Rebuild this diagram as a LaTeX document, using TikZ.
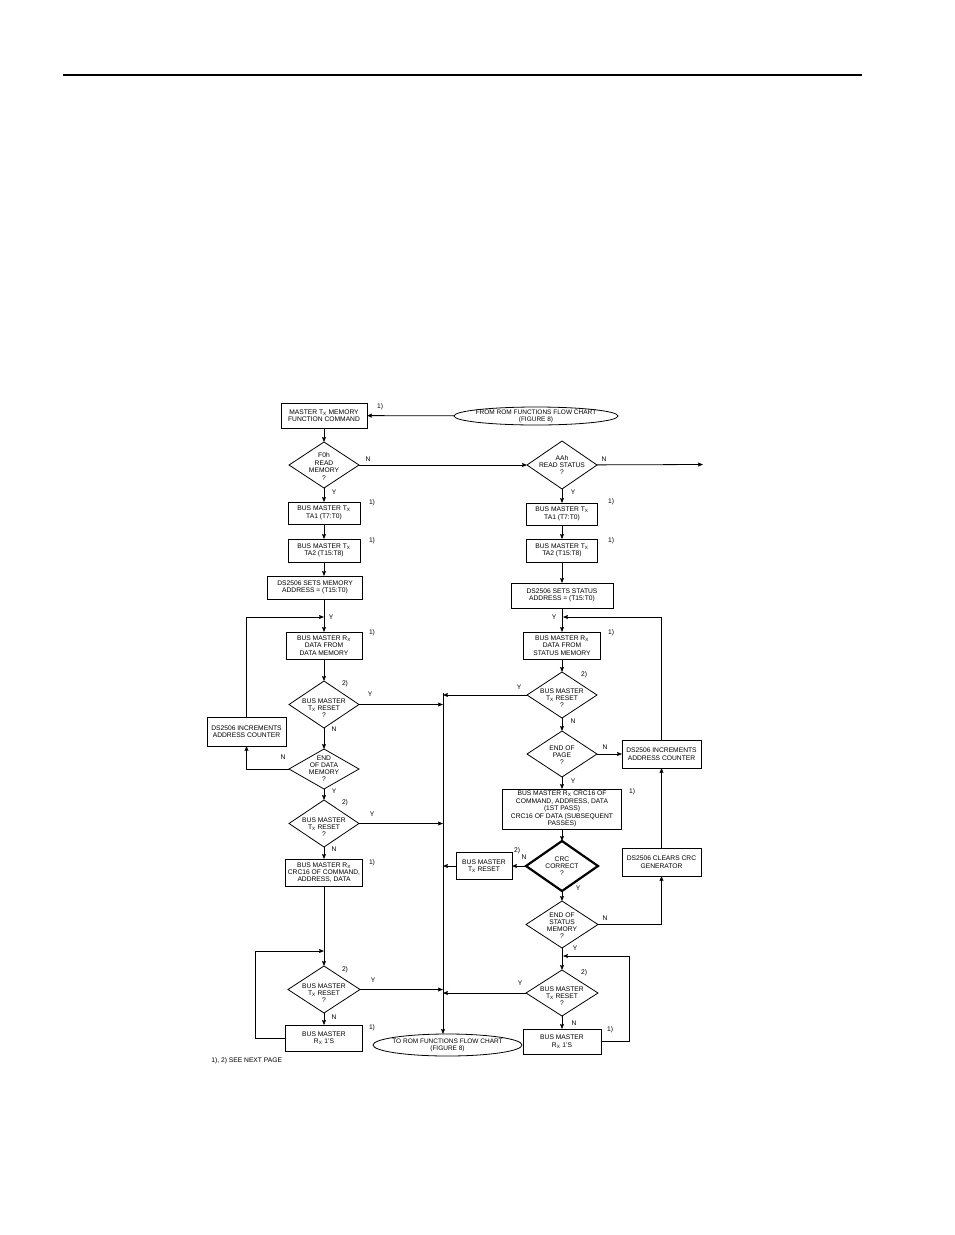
\documentclass[tikz,border=0pt]{standalone}
\usepackage{fontspec}
\setmainfont{Liberation Sans}
\usetikzlibrary{shapes,arrows.meta,calc,positioning}
\newcommand{\Tx}{T\textsubscript{X}}
\newcommand{\Rx}{R\textsubscript{X}}

\begin{document}
\begin{tikzpicture}[>={Stealth[length=5pt,width=4pt,inset=0.8pt]},x=1pt,y=-1pt,line width=0.8pt]
    \tikzstyle{box}=[rectangle,draw=black,inner sep=0pt,outer sep=0pt,align=center,
    font=\fontsize{6.7}{7.4}\selectfont,minimum width=72pt,minimum height=23pt]
    \tikzstyle{dec}=[diamond,draw=black,inner sep=0pt,outer sep=0pt,minimum width=70pt,minimum height=46pt]
    \tikzstyle{term}=[ellipse,draw=black,inner sep=0pt,outer sep=0pt]
    \tikzstyle{txt}=[font=\fontsize{6.7}{7}\selectfont,inner sep=0pt,align=center]
    \tikzstyle{rtxt}=[txt,yshift=-3.5pt]

    \useasboundingbox (0,0) rectangle (954,1235);
    \draw[line width=1.2pt] (63,75) -- (862,75);

    % read memory
    \node[box,minimum width=86pt,minimum height=25pt](cmd) at (324,415.5){MASTER \Tx{} MEMORY\\FUNCTION COMMAND};
    \node[dec,label={[txt,font=\fontsize{6.7}{7.8}\selectfont,yshift=-1.5pt]center:{F0h\\READ\\MEMORY\\?}}](rd_mem)[below=14pt of cmd]{};
    \node[box,minimum height=22pt](ta1_l)[below=14pt of rd_mem]{BUS MASTER \Tx\\TA1 (T7:T0)};
    \node[box](ta2_l)[below=15pt of ta1_l]{BUS MASTER \Tx\\TA2 (T15:T8)};
    \node[box,minimum width=95pt](addr_l)[below=14pt of ta2_l,xshift=-9pt]{DS2506 SETS MEMORY\\ADDRESS = (T15:T0)};
    \node[box,minimum width=76pt,minimum height=27pt](data_l)[below=33pt of addr_l,xshift=9pt]{BUS MASTER \Rx\\DATA FROM\\DATA MEMORY};
    \node[dec,minimum height=47pt,label={[rtxt]center:{BUS MASTER\\\Tx{} RESET\\?}}](rst1_l)[below=22pt of data_l]{};
    \node[dec,minimum height=40pt,label={[txt]center:{END\\OF DATA\\MEMORY\\?}}](end_l)[below=21pt of rst1_l]{};
    \node[dec,minimum height=47pt,label={[rtxt]center:{BUS MASTER\\\Tx{} RESET\\?}}](rst2_l)[below=11pt of end_l]{};
    \node[box,minimum width=77pt,minimum height=27pt](crc_l)[below=12pt of rst2_l]{BUS MASTER \Rx\\CRC16 OF COMMAND,\\ADDRESS, DATA};
    \node[dec,minimum width=72pt,minimum height=47pt,label={[rtxt]center:{BUS MASTER\\\Tx{} RESET\\?}}](rst3_l)[below=80pt of crc_l]{};
    \node[box,minimum width=77pt,minimum height=26pt](ones_l)[below=12pt of rst3_l]{BUS MASTER\\\Rx{} 1'S};
    \node[box,minimum width=79pt,minimum height=29pt](inc_l) at (246.5,731.5){DS2506 INCREMENTS\\ADDRESS COUNTER};

    % read status
    \node[term,minimum width=164pt,minimum height=18pt,label={[txt,font=\fontsize{6.5}{7}\selectfont]center:{FROM ROM FUNCTIONS FLOW CHART\\(FIGURE 8)}}](from_rom) at (536,416){};
    \node[dec,minimum height=48pt,label={[txt,font=\fontsize{6.7}{7.4}\selectfont]center:{AAh\\READ STATUS\\?}}](rd_stat)[right=168pt of rd_mem]{};
    \node[box,minimum width=71pt,minimum height=22pt](ta1_r)[below=14pt of rd_stat]{BUS MASTER \Tx\\TA1 (T7:T0)};
    \node[box,minimum width=71pt](ta2_r)[below=14pt of ta1_r]{BUS MASTER \Tx\\TA2 (T15:T8)};
    \node[box,minimum width=102pt,minimum height=25pt](addr_r)[below=21pt of ta2_r]{DS2506 SETS STATUS\\ADDRESS = (T15:T0)};
    \node[box,minimum width=77pt,minimum height=27pt](data_r)[below=24pt of addr_r]{BUS MASTER \Rx\\DATA FROM\\STATUS MEMORY};
    \node[dec,label={[rtxt]center:{BUS MASTER\\\Tx{} RESET\\?}}](rst1_r)[below=13pt of data_r]{};
    \node[dec,label={[txt,yshift=-1.5pt]center:{END OF\\PAGE\\?}}](endpg_r)[below=13pt of rst1_r]{};
    \node[box,minimum width=119pt,minimum height=40pt](crc_r)[below=12pt of endpg_r]{BUS MASTER \Rx{} CRC16 OF\\COMMAND, ADDRESS, DATA\\(1ST PASS)\\CRC16 OF DATA (SUBSEQUENT\\PASSES)};
    \node[dec,line width=2.2pt,minimum width=72pt,minimum height=50pt,label={[txt]center:{CRC\\CORRECT\\?}}](crc_ok)[below=12pt of crc_r]{};
    \node[dec,minimum width=72pt,minimum height=47pt,label={[txt,yshift=-1.5pt]center:{END OF\\STATUS\\MEMORY\\?}}](endst_r)[below=10pt of crc_ok]{};
    \node[dec,minimum width=72pt,label={[rtxt]center:{BUS MASTER\\\Tx{} RESET\\?}}](rst3_r)[below=22pt of endst_r]{};
    \node[box,minimum width=78pt,minimum height=25pt](ones_r)[below=13pt of rst3_r]{BUS MASTER\\\Rx{} 1'S};
    \node[box,minimum width=79pt,minimum height=28pt](inc_r)[right=25pt of endpg_r]{DS2506 INCREMENTS\\ADDRESS COUNTER};
    \node[box,minimum width=79pt,minimum height=28pt](clr_r)[right=24pt of crc_ok,yshift=4pt]{DS2506 CLEARS CRC\\GENERATOR};
    \node[box,minimum width=56pt,minimum height=27pt](rst_r)[left=14pt of crc_ok]{BUS MASTER\\\Tx{} RESET};
    \node[term,minimum width=149pt,minimum height=22pt,label={[txt,font=\fontsize{6.5}{7}\selectfont]center:{TO ROM FUNCTIONS FLOW CHART\\(FIGURE 8)}}](to_rom) at (447.5,1045){};

    \coordinate (bus) at (443,693);
    \coordinate (stat_out) at (703,464.5);
    \coordinate (loop_l) at (324,617);
    \coordinate (loop_l2) at (324,951);
    \coordinate (loop_r) at (563,617);
    \coordinate (loop_r2) at (563,956);

    \draw[->] (from_rom) -- (cmd);
    \draw[->] (cmd) -- (rd_mem);
    \draw[->] (rd_mem) -- (rd_stat);
    \draw[->] (rd_stat) -- (stat_out);
    \draw[->] (rd_mem) -- (ta1_l);
    \draw[->] (ta1_l) -- (ta2_l);
    \draw[->] (ta2_l.south) -- (ta2_l.south |- addr_l.north);
    \draw[->] (addr_l.south -| data_l) -- (data_l);
    \draw[->] (inc_l.north) |- (loop_l);
    \draw[->] (data_l) -- (rst1_l);
    \draw[->] (rst1_l) -- (rst1_l -| bus);
    \draw[->] (rst1_l) -- (end_l);
    \draw[->] (end_l.west) -| (inc_l.south);
    \draw[->] (end_l) -- (rst2_l);
    \draw[->] (rst2_l) -- (rst2_l -| bus);
    \draw[->] (rst2_l) -- (crc_l);
    \draw[->] (crc_l) -- (rst3_l);
    \draw[->] (rst3_l) -- (rst3_l -| bus);
    \draw[->] (rst3_l) -- (ones_l);
    \draw[->] (ones_l.west) -- ++(-30,0) |- (loop_l2);
    \draw[->] (bus) -- (bus |- to_rom.north);

    \draw[->] (rd_stat) -- (ta1_r);
    \draw[->] (ta1_r) -- (ta2_r);
    \draw[->] (ta2_r) -- (addr_r);
    \draw[->] (addr_r) -- (data_r);
    \draw[->] (inc_r.north) |- (loop_r);
    \draw[->] (data_r) -- (rst1_r);
    \draw[->] (rst1_r) -- (rst1_r -| bus);
    \draw[->] (rst1_r) -- (endpg_r);
    \draw[->] (endpg_r) -- (inc_r);
    \draw[->] (endpg_r) -- (crc_r);
    \draw[->] (crc_r) -- (crc_ok);
    \draw[->] (crc_ok) -- (rst_r);
    \draw[->] (rst_r) -- (rst_r -| bus);
    \draw[->] (crc_ok) -- (endst_r);
    \draw[->] (endst_r.east) -| (clr_r.south);
    \draw[->] (clr_r) -- (inc_r);
    \draw[->] (endst_r) -- (rst3_r);
    \draw[->] (rst3_r) -- (rst3_r -| bus);
    \draw[->] (rst3_r) -- (ones_r);
    \draw[->] (ones_r.east) -- ++(28,0) |- (loop_r2);

    % Y/N
    \node[txt](n_rdmem) at (368,459){N};
    \node[txt](y_rdmem) at (334,492){Y};
    \node[txt](y_addrl) at (331,617){Y};
    \node[txt](y_rst1l) at (370,694){Y};
    \node[txt](n_rst1l) at (334,729){N};
    \node[txt](n_endl) at (283,757){N};
    \node[txt](y_endl) at (334,791){Y};
    \node[txt](y_rst2l) at (372,814){Y};
    \node[txt](n_rst2l) at (334,849){N};
    \node[txt](y_rst3l) at (373,980){Y};
    \node[txt](n_rst3l) at (334,1017){N};
    \node[txt](n_rdstat) at (604,459){N};
    \node[txt](y_rdstat) at (573,492){Y};
    \node[txt](y_addrr) at (554,617){Y};
    \node[txt](y_rst1r) at (519,687){Y};
    \node[txt](n_rst1r) at (573,721){N};
    \node[txt](n_endpg) at (605,747){N};
    \node[txt](y_endpg) at (573,781){Y};
    \node[txt](n_crcok) at (524,857){N};
    \node[txt](y_crcok) at (578,888){Y};
    \node[txt](n_endst) at (605,918){N};
    \node[txt](y_endst) at (575,948){Y};
    \node[txt](y_rst3r) at (520,983){Y};
    \node[txt](n_rst3r) at (574,1023){N};

    % notes
    \node[txt](f_cmd) at (380,407){1)};
    \node[txt](f_ta1l) at (372,503){1)};
    \node[txt](f_ta2l) at (372,541){1)};
    \node[txt](f_datal) at (372,633){1)};
    \node[txt](f_rst1l) at (345,684){2)};
    \node[txt](f_rst2l) at (345,803){2)};
    \node[txt](f_crcl) at (372,863){1)};
    \node[txt](f_rst3l) at (345,970){2)};
    \node[txt](f_onesl) at (372,1028){1)};
    \node[txt](f_ta1r) at (611,502){1)};
    \node[txt](f_ta2r) at (611,541){1)};
    \node[txt](f_datar) at (611,633){1)};
    \node[txt](f_rst1r) at (584,675){2)};
    \node[txt](f_crcr) at (632,792){1)};
    \node[txt](f_rstr) at (517,851){2)};
    \node[txt](f_rst3r) at (584,973){2)};
    \node[txt](f_onesr) at (610,1030){1)};
    \node[txt,anchor=west](see_next) at (211,1061){1), 2) SEE NEXT PAGE};
\end{tikzpicture}
\end{document}
